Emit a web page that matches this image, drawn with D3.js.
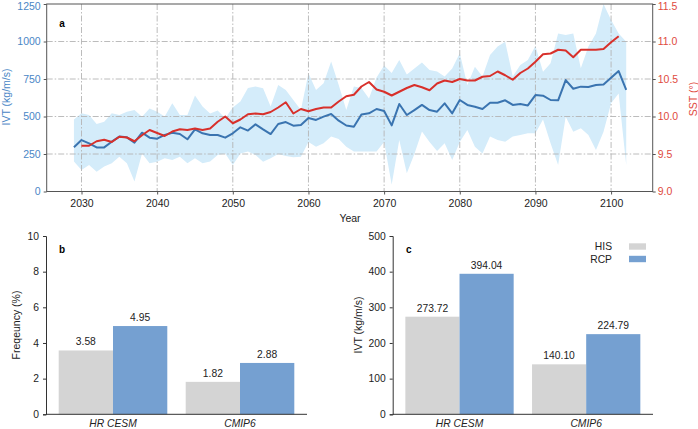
<!DOCTYPE html>
<html>
<head>
<script src="https://cdn.jsdelivr.net/npm/d3@7"></script>
<style>
    body { margin: 0; background: #fff; }
    text { font-family: "Liberation Sans", Arial, sans-serif; }
</style>
</head>
<body>
<svg id="chart" width="698" height="429"></svg>
<script>
// ---- panel a data ----
const years = d3.range(2029, 2103);
const ivtMean = [295, 343, 321, 294, 294, 332, 366, 361, 326, 392, 359, 352, 377, 392, 383, 348, 414, 388, 377, 377,
    359, 388, 428, 406, 448, 414, 383, 450, 463, 439, 443, 490, 477, 499, 517, 472, 440, 432, 514, 521,
    550, 537, 441, 583, 510, 543, 577, 543, 532, 588, 521, 610, 577, 565, 550, 592, 592, 608, 577, 583,
    574, 643, 639, 610, 608, 743, 685, 699, 697, 710, 713, 759, 803, 677];
const ivtUpper = [480, 521, 510, 450, 465, 521, 510, 532, 543, 499, 554, 532, 500, 588, 510, 510, 640, 566, 520, 540,
    488, 560, 600, 690, 700, 688, 566, 710, 677, 610, 543, 788, 677, 721, 866, 710, 543, 700, 690, 620,
    760, 840, 790, 877, 780, 820, 860, 810, 800, 766, 820, 921, 710, 832, 766, 910, 966, 999, 766, 843,
    877, 970, 799, 855, 1054, 1043, 1054, 821, 966, 1054, 1250, 1143, 1054, 999];
const ivtLower = [200, 143, 177, 132, 166, 188, 232, 188, 66, 254, 188, 199, 221, 210, 232, 188, 221, 188, 200, 243,
    254, 177, 254, 266, 243, 199, 221, 250, 237, 228, 232, 330, 299, 321, 366, 350, 299, 266, 266, 266,
    266, 330, 45, 343, 121, 250, 400, 330, 270, 321, 210, 330, 410, 299, 254, 366, 343, 332, 366, 377,
    388, 388, 480, 321, 177, 499, 399, 421, 377, 277, 399, 588, 654, 177];
const sstYears = d3.range(2030, 2102);
const sst = [9.61, 9.61, 9.67, 9.69, 9.66, 9.73, 9.72, 9.67, 9.75, 9.82, 9.78, 9.74, 9.80, 9.83, 9.82, 9.84, 9.82, 9.84,
    9.93, 10.00, 9.91, 9.96, 10.03, 10.04, 10.03, 10.06, 10.12, 10.19, 10.04, 10.10, 10.07, 10.10, 10.12, 10.12,
    10.20, 10.27, 10.29, 10.40, 10.46, 10.36, 10.33, 10.28, 10.33, 10.38, 10.42, 10.39, 10.35, 10.44, 10.48, 10.46,
    10.50, 10.48, 10.48, 10.53, 10.54, 10.60, 10.55, 10.49, 10.58, 10.64, 10.73, 10.83, 10.84, 10.89, 10.88, 10.79,
    10.89, 10.89, 10.89, 10.90, 10.99, 11.07];
const ivtTicks = [0, 250, 500, 750, 1000, 1250];
const sstTicks = [9.0, 9.5, 10.0, 10.5, 11.0, 11.5];
const yearTicks = [2030, 2040, 2050, 2060, 2070, 2080, 2090, 2100];

// ---- panels b, c data ----
const cats = ["HR CESM", "CMIP6"];
const series = ["HIS", "RCP"];
const freqHis = [3.58, 1.82];
const freqRcp = [4.95, 2.88];
const ivtHis = [273.72, 140.10];
const ivtRcp = [394.04, 224.79];
const freqTicks = [0, 2, 4, 6, 8, 10];
const ivtBarTicks = [0, 100, 200, 300, 400, 500];

const BLUE = "#3a74b0", RED = "#d8302b", BAND = "#d4ecfa", GRID = "#b4b4b4";
const HIS_C = "#d4d4d4", RCP_C = "#75a0d1";

const svg = d3.select("#chart");

// ================= panel a =================
const A = {l: 46.7, r: 652.7, t: 4, b: 191.5};
const x = d3.scaleLinear().domain([2025.4, 2105.5]).range([A.l, A.r]);
const yI = d3.scaleLinear().domain([0, 1250]).range([A.b, A.t]);
const yS = d3.scaleLinear().domain([9, 11.5]).range([A.b, A.t]);

const ga = svg.append("g");

ga.append("path")
    .datum(years.map((yr, i) => ({yr, lo: ivtLower[i], hi: ivtUpper[i]})))
    .attr("fill", BAND)
    .attr("d", d3.area().x(d => x(d.yr)).y0(d => yI(d.lo)).y1(d => yI(d.hi)));

// grid
ga.selectAll(".hg").data(ivtTicks.slice(1, -1)).enter().append("line")
    .attr("x1", A.l).attr("x2", A.r)
    .attr("y1", d => yI(d)).attr("y2", d => yI(d))
    .attr("stroke", GRID).attr("stroke-width", 0.9).attr("stroke-dasharray", "6,2,1.5,2");
ga.selectAll(".vg").data(yearTicks).enter().append("line")
    .attr("y1", A.t).attr("y2", A.b)
    .attr("x1", d => x(d)).attr("x2", d => x(d))
    .attr("stroke", GRID).attr("stroke-width", 0.9).attr("stroke-dasharray", "6,2,1.5,2");

ga.append("path")
    .datum(ivtMean.map((v, i) => [years[i], v]))
    .attr("fill", "none").attr("stroke", BLUE).attr("stroke-width", 2)
    .attr("stroke-linejoin", "round")
    .attr("d", d3.line().x(d => x(d[0])).y(d => yI(d[1])));

ga.append("path")
    .datum(sst.map((v, i) => [sstYears[i], v]))
    .attr("fill", "none").attr("stroke", RED).attr("stroke-width", 2)
    .attr("stroke-linejoin", "round")
    .attr("d", d3.line().x(d => x(d[0])).y(d => yS(d[1])));

ga.append("rect")
    .attr("x", A.l).attr("y", A.t).attr("width", A.r - A.l).attr("height", A.b - A.t)
    .attr("fill", "none").attr("stroke", "#555").attr("stroke-width", 1);

const axL = ga.append("g").attr("transform", `translate(${A.l},0)`)
    .call(d3.axisLeft(yI).tickValues(ivtTicks).tickFormat(d3.format("d")).tickSize(3).tickPadding(3));
axL.select(".domain").remove();
axL.selectAll("text").attr("fill", "#4a86c6").style("font-size", "10.5px");
axL.selectAll("line").attr("stroke", "#555");

const axR = ga.append("g").attr("transform", `translate(${A.r},0)`)
    .call(d3.axisRight(yS).tickValues(sstTicks).tickFormat(d3.format(".1f")).tickSize(3).tickPadding(2));
axR.select(".domain").remove();
axR.selectAll("text").attr("fill", "#e04a40").style("font-size", "10.5px");
axR.selectAll("line").attr("stroke", "#555");

// keep the topmost labels inside the picture
axL.selectAll(".tick text").filter(d => d === 1250).attr("y", 2.5);
axR.selectAll(".tick text").filter(d => d === 11.5).attr("y", 2.5);

const axB = ga.append("g").attr("transform", `translate(0,${A.b})`)
    .call(d3.axisBottom(x).tickValues(yearTicks).tickFormat(d3.format("d")).tickSize(3).tickPadding(5));
axB.select(".domain").remove();
axB.selectAll("text").attr("fill", "#222").style("font-size", "10.5px");
axB.selectAll("line").attr("stroke", "#555");

ga.append("text").attr("x", 350).attr("y", 222).attr("text-anchor", "middle")
    .style("font-size", "10.5px").attr("fill", "#222").text("Year");
ga.append("text").attr("transform", "translate(6.5,97) rotate(-90)").attr("dy", "0.35em")
    .attr("text-anchor", "middle").style("font-size", "10.5px").attr("fill", "#4a86c6").text("IVT (kg/m/s)");
ga.append("text").attr("transform", "translate(693,99) rotate(-90)").attr("dy", "0.35em")
    .attr("text-anchor", "middle").style("font-size", "10.5px").attr("fill", "#e04a40").text("SST (°)");
ga.append("text").attr("x", 62).attr("y", 27).attr("text-anchor", "middle")
    .style("font-size", "10px").style("font-weight", "bold").text("a");

// ================= bar panels =================
function barPanel(opt) {
    const g = svg.append("g");
    const x0 = d3.scaleBand().domain(cats).range([opt.l, opt.r]).paddingInner(0.145).paddingOuter(0.1);
    const x1 = d3.scaleBand().domain(series).range([0, x0.bandwidth()]);
    const y = d3.scaleLinear().domain(opt.domain).range([opt.b, opt.t]);
    const rows = cats.map((c, i) => ({cat: c, vals: [opt.his[i], opt.rcp[i]]}));

    const grp = g.selectAll(".grp").data(rows).enter().append("g")
        .attr("transform", d => `translate(${x0(d.cat)},0)`);
    grp.selectAll("rect").data(d => d.vals.map((v, j) => ({s: series[j], v}))).enter().append("rect")
        .attr("x", d => x1(d.s)).attr("width", x1.bandwidth())
        .attr("y", d => y(d.v)).attr("height", d => opt.b - y(d.v))
        .attr("fill", d => d.s === "HIS" ? HIS_C : RCP_C);
    grp.selectAll(".val").data(d => d.vals.map((v, j) => ({s: series[j], v}))).enter().append("text")
        .attr("x", d => x1(d.s) + x1.bandwidth() / 2).attr("y", d => y(d.v) - 5)
        .attr("text-anchor", "middle").style("font-size", "10.3px").attr("fill", "#222")
        .text(d => d3.format(".2f")(d.v));

    const ay = g.append("g").attr("transform", `translate(${opt.l},0)`)
        .call(d3.axisLeft(y).tickValues(opt.ticks).tickSize(3).tickPadding(4));
    ay.select(".domain").attr("stroke", "#333");
    ay.selectAll("line").attr("stroke", "#333");
    ay.selectAll("text").style("font-size", "10.3px").attr("fill", "#222");

    g.append("line").attr("x1", opt.l).attr("x2", opt.r).attr("y1", opt.b).attr("y2", opt.b)
        .attr("stroke", "#333");
    g.selectAll(".cat").data(cats).enter().append("text")
        .attr("x", d => x0(d) + x0.bandwidth() / 2).attr("y", 427)
        .attr("text-anchor", "middle").style("font-size", "10.3px").style("font-style", "italic")
        .attr("fill", "#222").text(d => d);

    g.append("text").attr("transform", `translate(${opt.titleX},325) rotate(-90)`).attr("dy", "0.35em")
        .attr("text-anchor", "middle").style("font-size", "10.5px").attr("fill", "#222").text(opt.title);
    g.append("text").attr("x", opt.l + 16).attr("y", opt.t + 17).attr("text-anchor", "middle")
        .style("font-size", "10px").style("font-weight", "bold").text(opt.label);
    return g;
}

barPanel({l: 46, r: 307, t: 236, b: 414.3, domain: [0, 10], ticks: freqTicks,
    his: freqHis, rcp: freqRcp, title: "Freqeuncy (%)", titleX: 16, label: "b"});
const gc = barPanel({l: 392.7, r: 653, t: 236, b: 414.3, domain: [0, 500], ticks: ivtBarTicks,
    his: ivtHis, rcp: ivtRcp, title: "IVT (kg/m/s)", titleX: 358, label: "c"});

// legend
const leg = gc.selectAll(".leg").data(series).enter().append("g")
    .attr("transform", (d, i) => `translate(0,${246.5 + i * 12.5})`);
leg.append("text").attr("x", 612).attr("dy", "0.35em").attr("text-anchor", "end")
    .style("font-size", "10.3px").attr("fill", "#222").text(d => d);
leg.append("rect").attr("x", 629).attr("y", -3.2).attr("width", 17).attr("height", 6.4)
    .attr("fill", d => d === "HIS" ? HIS_C : RCP_C);
</script>
</body>
</html>
